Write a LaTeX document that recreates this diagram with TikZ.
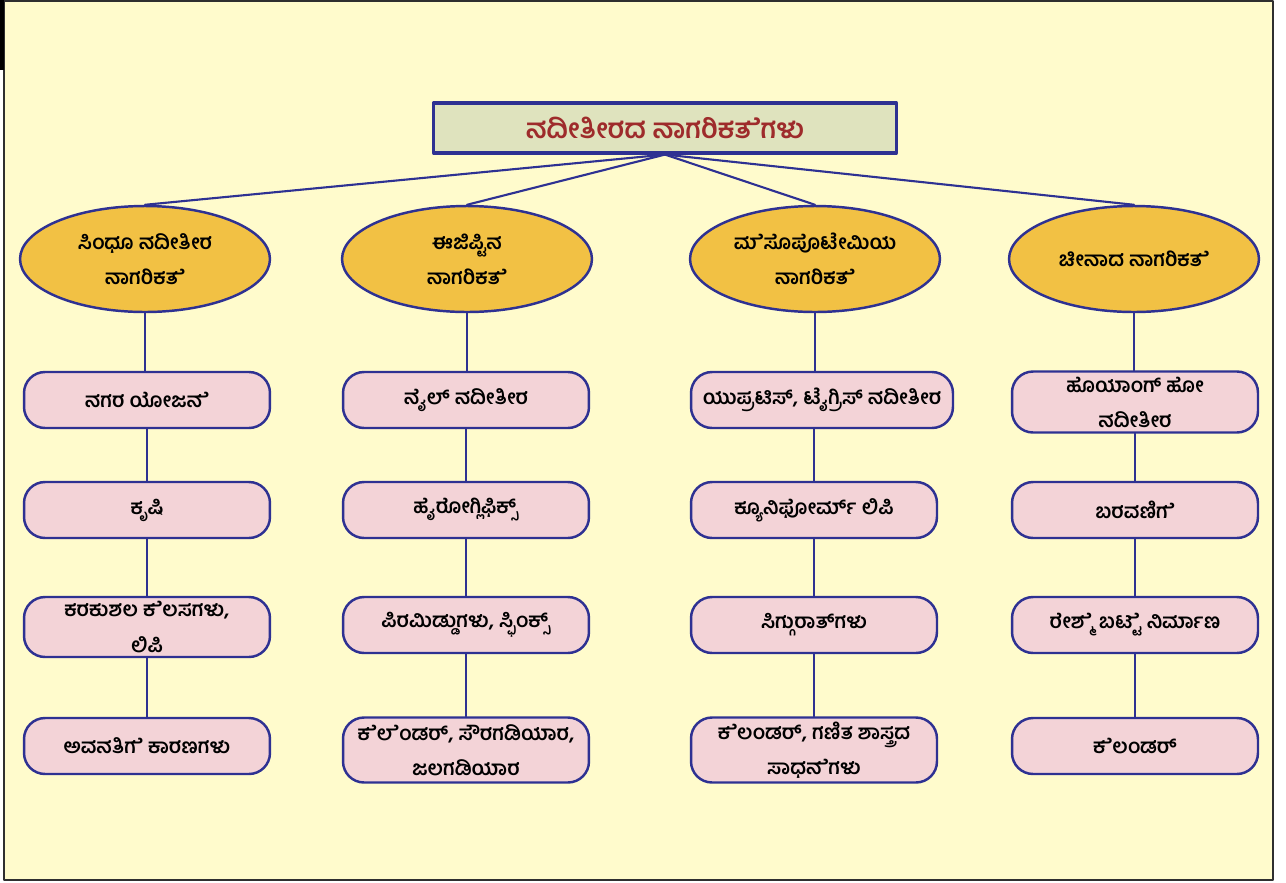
\documentclass[tikz,border=0pt]{standalone}
\usepackage{fontspec}
\usepackage{tikz}
\usetikzlibrary{shapes.geometric}
\newfontfamily\kanfont[Script=Kannada]{Hind Mysuru}
\newfontfamily\kanE[Script=Kannada,RawFeature=-pres]{Hind Mysuru}
\newcommand{\es}[1]{{\kanE #1}}
\definecolor{bgyellow}{HTML}{FFFBCC}
\definecolor{framegray}{HTML}{2F2F2F}
\definecolor{titlefill}{HTML}{DFE3BE}
\definecolor{lineblue}{HTML}{2E3192}
\definecolor{gold}{HTML}{F2C144}
\definecolor{pinkbox}{HTML}{F3D3D7}
\definecolor{titlered}{HTML}{9E2B2B}

\tikzset{
  civ/.style={ellipse,draw=lineblue,line width=1.4pt,fill=gold,
    minimum width=5.0cm,minimum height=2.12cm,inner sep=0pt,
    align=center,font=\kanfont\bfseries\fontsize{11.5}{20}\selectfont},
  topic/.style={rectangle,rounded corners=0.42cm,draw=lineblue,line width=1.4pt,
    fill=pinkbox,minimum width=4.92cm,minimum height=1.12cm,inner sep=0pt,
    align=center,font=\kanfont\bfseries\fontsize{11.5}{20}\selectfont},
  link/.style={draw=lineblue,line width=1.2pt}
}

\begin{document}
\begin{tikzpicture}[x=0.02cm,y=-0.02cm,line cap=round,line join=round]
      \useasboundingbox (0,0) rectangle (1286,883);
      \draw [fill=bgyellow,draw=framegray,line width=1.2pt] (4,1) rectangle (1273,880);
      \fill [black] (0,0) rectangle (4,70);
      % title
      \node [rectangle,draw=lineblue,line width=1.8pt,fill=titlefill,
        minimum width=9.26cm,minimum height=1.0cm,
        font=\kanfont\bfseries\fontsize{15.5}{18}\selectfont,text=titlered]
        (title) at (665,128) {ನದೀತೀರದ ನಾಗರಿಕ\es{ತೆ}ಗಳು};
      % civilisations
      \node [civ] (indus) at (145,259) {ಸಿಂಧೂ ನದೀತೀರ\\ನಾಗರಿಕ\es{ತೆ}};
      \node [civ] (egypt) at (467,259) {ಈಜಿಪ್ಟಿನ\\ನಾಗರಿಕ\es{ತೆ}};
      \node [civ] (meso) at (815,259) {\es{ಮೆ}ಸೊಪೊಟೇಮಿಯ\\ನಾಗರಿಕ\es{ತೆ}};
      \node [civ] (china) at (1134,259) {ಚೀನಾದ ನಾಗರಿಕ\es{ತೆ}};
      % indus column
      \node [topic] (ia) at (147,400) {ನಗರ ಯೋಜ\es{ನೆ}};
      \node [topic] (ib) at (147,510) {ಕೃಷಿ};
      \node [topic,minimum height=1.2cm] (ic) at (147,627) {ಕರಕುಶಲ \es{ಕೆ}ಲಸಗಳು,\\ಲಿಪಿ};
      \node [topic] (id) at (147,746) {ಅವನತಿ\es{ಗೆ} ಕಾರಣಗಳು};
      % egypt column
      \node [topic] (ea) at (466,400) {ನೈಲ್ ನದೀತೀರ};
      \node [topic] (eb) at (466,510) {ಹೈರೋಗ್ಲಿಫಿಕ್ಸ್};
      \node [topic] (ec) at (466,625) {ಪಿರಮಿಡ್ಡುಗಳು, ಸ್ಫಿಂಕ್ಸ್};
      \node [topic,minimum height=1.3cm] (ed) at (466,750) {\es{ಕೆಲೆಂ}ಡರ್, ಸೌರಗಡಿಯಾರ,\\ಜಲಗಡಿಯಾರ};
      % mesopotamia column
      \node [topic,minimum width=5.24cm] (ma) at (822,400) {ಯುಪ್ರಟಿಸ್, ಟೈಗ್ರಿಸ್ ನದೀತೀರ};
      \node [topic] (mb) at (814,510) {ಕ್ಯೂನಿಫೋರ್ಮ್ ಲಿಪಿ};
      \node [topic] (mc) at (814,625) {ಸಿಗ್ಗುರಾತ್‌ಗಳು};
      \node [topic,minimum height=1.3cm] (md) at (814,750) {\es{ಕೆ}ಲಂಡರ್, ಗಣಿತ ಶಾಸ್ತ್ರದ\\ಸಾಧ\es{ನೆ}ಗಳು};
      % china column
      \node [topic,minimum height=1.22cm] (ca) at (1135,402) {ಹೊಯಾಂಗ್ ಹೋ\\ನದೀತೀರ};
      \node [topic] (cb) at (1135,510) {ಬರವಣಿ\es{ಗೆ}};
      \node [topic] (cc) at (1135,625) {ರೇ\es{ಶ್ಮೆ} ಬ\es{ಟ್ಟೆ} ನಿರ್ಮಾಣ};
      \node [topic] (cd) at (1135,746) {\es{ಕೆ}ಲಂಡರ್};
      % links from title
      \draw [link] (title.south) -- (indus.north);
      \draw [link] (title.south) -- (egypt.north);
      \draw [link] (title.south) -- (meso.north);
      \draw [link] (title.south) -- (china.north);
      % columns
      \draw [link] (indus.south) -- (ia.north -| indus.south);
      \draw [link] (ia) -- (ib) (ib) -- (ic) (ic) -- (id);
      \draw [link] (egypt.south) -- (ea.north -| egypt.south);
      \draw [link] (ea) -- (eb) (eb) -- (ec) (ec) -- (ed);
      \draw [link] (meso.south) -- (ma.north -| meso.south);
      \draw [link] (ma.south -| mb.north) -- (mb) (mb) -- (mc) (mc) -- (md);
      \draw [link] (china.south) -- (ca.north -| china.south);
      \draw [link] (ca) -- (cb) (cb) -- (cc) (cc) -- (cd);
\end{tikzpicture}
\end{document}
